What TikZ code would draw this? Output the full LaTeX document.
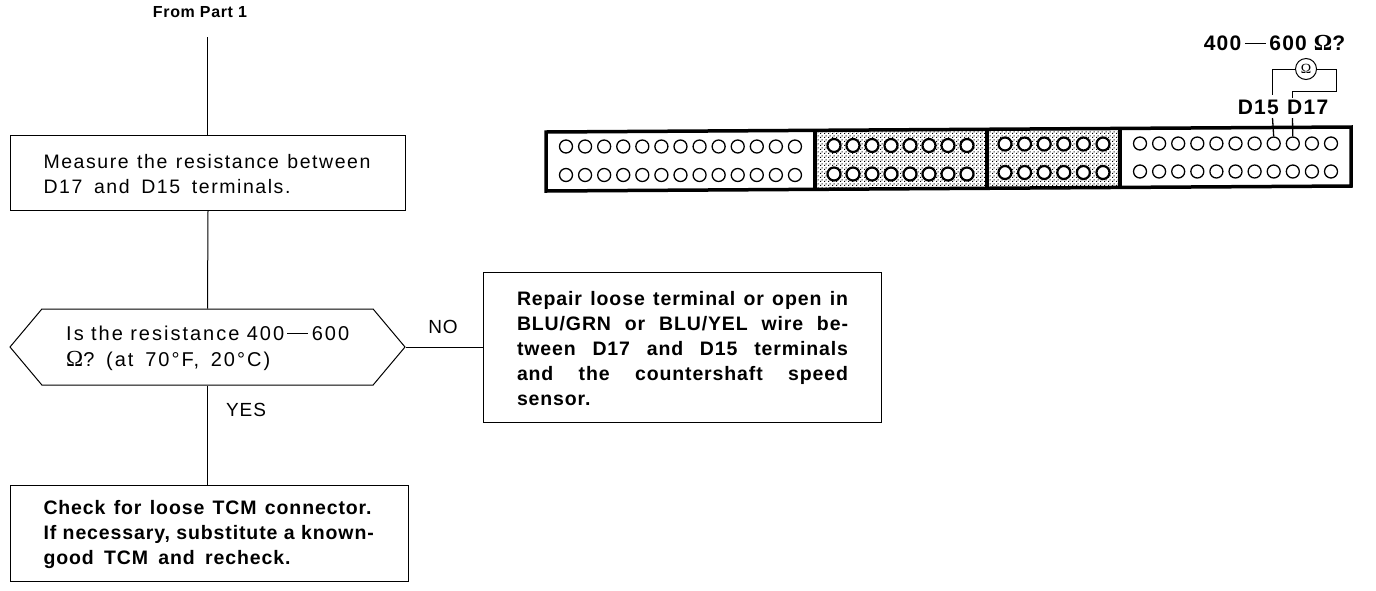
\documentclass[tikz,border=0pt]{standalone}
\usepackage{fontspec}
\setmainfont{Liberation Sans}
\newfontfamily\omfont{Liberation Serif}
\usetikzlibrary{shapes.symbols,patterns}
\newcommand{\fl}[2]{\makebox[#1][s]{\spaceskip=.33em plus 1fil\relax #2}}
\pgfdeclarepatternformonly{stipple}{\pgfqpoint{0pt}{0pt}}{\pgfqpoint{4pt}{4pt}}{\pgfqpoint{4pt}{4pt}}{
 \pgfpathrectangle{\pgfqpoint{0pt}{0pt}}{\pgfqpoint{1.3pt}{1.3pt}}
 \pgfpathrectangle{\pgfqpoint{2pt}{2pt}}{\pgfqpoint{1.3pt}{1.3pt}}
 \pgfusepath{fill}}
\tikzset{
 x=1pt,y=-1pt,
 flowbox/.style={draw,line width=1pt,anchor=north west,inner xsep=33pt,inner ysep=0pt,align=left,font=\fontsize{19.5}{25}\selectfont\addfontfeature{LetterSpace=8}},
 boldbox/.style={flowbox,font=\fontsize{19.5}{25}\bfseries\selectfont\addfontfeature{LetterSpace=4.5}},
 flowlabel/.style={font=\fontsize{19}{22}\selectfont\addfontfeature{LetterSpace=5}},
 term/.style={draw,circle,line width=1.3pt,minimum size=13pt,inner sep=0pt},
 shadedterm/.style={term,line width=2.2pt,fill=white},
 wire/.style={line width=1pt},
 pinlabel/.style={font=\fontsize{21}{24}\bfseries\selectfont\addfontfeature{LetterSpace=6},inner sep=0pt},
}
\begin{document}
\begin{tikzpicture}
\useasboundingbox (0,0) rectangle (1376,590);
\node[font=\fontsize{16}{18}\bfseries\selectfont\addfontfeature{LetterSpace=4},inner sep=0pt] (from) at (200,12) {From Part 1};
\coordinate (start) at (207,37);
\node[flowbox,text width=329pt,minimum height=75pt] (measure) at (10,135) {\rule{0pt}{17pt}\fl{327pt}{Measure the resistance between}\\\fl{247pt}{D17 and D15 terminals.}};
\node[draw,line width=1pt,signal,signal to=east and west,signal pointer angle=100,minimum width=395pt,minimum height=76pt,inner sep=0pt] (ask) at (207.5,347) {};
\node[anchor=west,inner sep=0pt,align=left,font=\fontsize{20}{26}\selectfont\addfontfeature{LetterSpace=10}] (asktext) at (66,348) {\fl{283pt}{Is the resistance 400\,\rule[0.33em]{1.05em}{0.8pt}\,600}\\\fl{204pt}{{\omfont\fontsize{23}{26}\selectfont Ω}? (at 70°F, 20°C)}};
\node[boldbox,inner xsep=0pt,text width=331pt,minimum width=398pt,minimum height=150pt,align=center] (repair) at (483,272) {\rule{0pt}{17pt}\fl{331pt}{Repair loose terminal or open in}\\\fl{331pt}{BLU/GRN or BLU/YEL wire be-}\\\fl{331pt}{tween D17 and D15 terminals}\\\fl{331pt}{and the countershaft speed}\\\makebox[331pt][l]{sensor.}};
\node[boldbox,text width=332pt,minimum height=96pt] (check) at (10,485) {\rule{0pt}{17pt}\fl{328pt}{Check for loose TCM connector.}\\\fl{329pt}{If necessary, substitute a known-}\\\fl{247pt}{good TCM and recheck.}};
\draw[wire] (start) -- (measure.north -| start);
\draw[wire] (measure.south) -- (ask.north);
\draw[wire] (ask.south) -- (ask.south |- check.north);
\draw[wire] (ask.east) -- (repair.west |- ask.east);
\node[flowlabel,inner sep=0pt] (no) at (443,327) {NO};
\node[flowlabel,inner sep=0pt] (yes) at (246,410) {YES};
% connector block
\path[pattern=stipple] (815,130) rectangle (1120,187);
\draw[line width=3.5pt,line join=miter] (546,132) -- (1351,127) -- (1351,186) -- (546,191) -- cycle;
\draw[line width=3.5pt] (815,131) -- (815,189);
\draw[line width=3.5pt] (987,130) -- (987,188);
\draw[line width=3.5pt] (1120,129) -- (1120,187);
\foreach \i in {0,...,12} {
 \node[term] (a\i) at (566+19.08*\i,146.5) {};
 \node[term] (b\i) at (566+19.08*\i,175) {};
}
\foreach \i in {0,...,7} {
 \node[shadedterm] (c\i) at (834+19*\i,145.5) {};
 \node[shadedterm] (d\i) at (834+19*\i,174) {};
}
\foreach \i in {0,...,5} {
 \node[shadedterm] (e\i) at (1005+19.6*\i,144) {};
 \node[shadedterm] (f\i) at (1005+19.6*\i,172.5) {};
}
\foreach \i in {0,...,10} {
 \node[term] (g\i) at (1140+19.1*\i,143.5) {};
 \node[term] (h\i) at (1140+19.1*\i,171.5) {};
}
% meter
\node[pinlabel] (range) at (1274.5,43) {400\,\rule[0.33em]{1em}{0.05em}\,600 {\omfont\fontsize{23}{24}\selectfont Ω}?};
\node[draw,circle,line width=1pt,minimum size=21pt,inner sep=0pt,font=\fontsize{14}{14}\omfont] (meter) at (1306,69) {Ω};
\node[pinlabel,anchor=east] (d15) at (1279,107) {D15};
\node[pinlabel,anchor=west] (d17) at (1287,107) {D17};
\coordinate (p15) at (1272.5,95);
\coordinate (p17) at (1292.5,98);
\coordinate (q15) at (1272.5,118);
\coordinate (q17) at (1292.5,118);
\draw[wire] (meter.west) -| (p15);
\draw[wire] (meter.east) -- (1336,69) -- (1336,91) -- (1292.5,91) -- (p17);
\draw[line width=1.3pt] (q15) -- (g7.north);
\draw[line width=1.3pt] (q17) -- (g8.north);
\end{tikzpicture}
\end{document}
